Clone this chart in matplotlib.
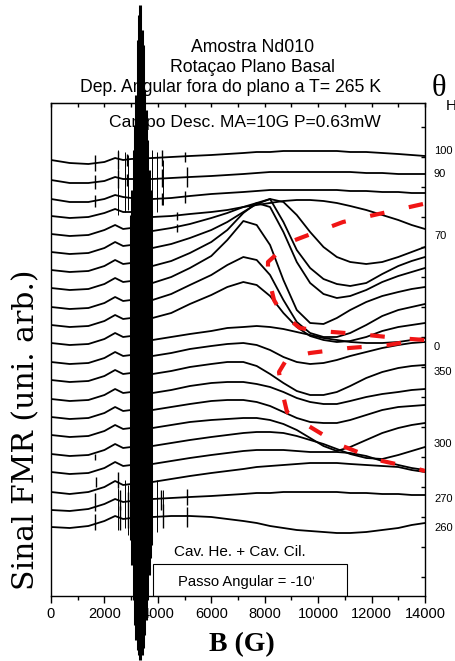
import matplotlib
matplotlib.use('Agg')
import matplotlib.pyplot as plt
from matplotlib.patches import Rectangle
from matplotlib.transforms import Bbox
from matplotlib.ticker import MultipleLocator

plt.rcParams['font.family'] = ['Liberation Sans', 'DejaVu Sans']

W, H = 456, 661

B_GRID = [0, 700, 1400, 2000, 2400, 2700, 3000, 3800, 4500, 5200, 6000, 6600,
          7200, 7700, 8200, 8700, 9200, 9700, 10200, 10700, 11200, 11800,
          12400, 13000, 13500, 14000]

# stacked FMR spectra, vertical position (arb., growing downwards), one per angle
T100 = [160, 163, 164, 162, 158, 160, 159, 158, 157, 156, 155, 154, 153, 152, 152, 151, 151, 151, 151, 151, 152, 152, 153, 154, 155, 156]
T090 = [180, 183, 183, 181, 177, 179, 179, 179, 178, 177, 176, 175, 174, 173, 172, 172, 172, 172, 172, 172, 172, 173, 173, 174, 174, 174]
T080 = [199, 202, 202, 199, 195, 197, 198, 199, 198, 196, 194, 193, 192, 191, 190, 190, 190, 190, 190, 190, 191, 191, 192, 192, 193, 193]
T070 = [216, 218, 217, 213, 209, 212, 212, 217, 216, 214, 212, 210, 207, 205, 203, 201, 200, 200, 201, 203, 206, 210, 215, 220, 225, 229]
T060 = [234, 236, 235, 230, 225, 229, 228, 231, 228, 224, 218, 213, 207, 203, 199, 202, 215, 232, 247, 257, 262, 264, 262, 257, 252, 247]
T050 = [252, 254, 253, 248, 242, 246, 245, 248, 244, 238, 230, 222, 212, 204, 199, 222, 250, 268, 279, 284, 286, 283, 274, 266, 261, 257]
T040 = [270, 272, 271, 266, 260, 264, 263, 266, 261, 253, 242, 230, 213, 203, 207, 232, 262, 283, 294, 298, 296, 290, 282, 276, 272, 268]
T030 = [288, 290, 289, 284, 278, 282, 281, 283, 277, 268, 256, 240, 221, 225, 245, 280, 310, 323, 324, 318, 310, 302, 296, 292, 289, 287]
T020 = [307, 309, 308, 303, 297, 301, 300, 300, 294, 285, 275, 265, 257, 260, 275, 300, 322, 333, 337, 337, 333, 325, 316, 310, 307, 304]
T010 = [325, 327, 326, 321, 315, 319, 318, 318, 313, 304, 295, 287, 282, 285, 296, 313, 327, 336, 340, 342, 341, 337, 331, 327, 325, 323]
T000 = [343, 345, 344, 339, 333, 337, 336, 340, 337, 334, 331, 328, 327, 326, 327, 329, 332, 335, 338, 340, 342, 343, 343, 342, 340, 338]
T350 = [362, 364, 363, 358, 352, 356, 355, 356, 353, 349, 346, 344, 343, 345, 350, 357, 362, 364, 363, 360, 356, 352, 348, 345, 343, 342]
T340 = [380, 382, 381, 376, 370, 374, 373, 374, 371, 367, 364, 362, 362, 366, 374, 383, 391, 395, 395, 392, 386, 378, 372, 368, 366, 365]
T330 = [399, 401, 400, 395, 389, 393, 392, 393, 390, 386, 383, 382, 382, 384, 387, 392, 398, 402, 404, 404, 401, 397, 394, 392, 390, 389]
T320 = [417, 419, 418, 413, 407, 411, 410, 410, 407, 404, 401, 400, 400, 402, 406, 412, 418, 422, 423, 423, 420, 415, 410, 407, 406, 405]
T310 = [435, 437, 436, 431, 425, 429, 428, 428, 425, 422, 420, 419, 418, 418, 420, 424, 430, 438, 446, 451, 447, 440, 433, 428, 425, 423]
T300 = [454, 456, 455, 450, 444, 448, 447, 446, 443, 440, 437, 435, 433, 432, 432, 433, 436, 440, 444, 449, 454, 458, 459, 455, 451, 447]
T290 = [472, 474, 473, 468, 462, 466, 465, 464, 461, 458, 455, 453, 451, 450, 450, 450, 451, 452, 452, 452, 453, 456, 461, 465, 468, 470]
T280 = [492, 494, 492, 487, 481, 485, 484, 482, 479, 476, 473, 471, 469, 467, 466, 465, 464, 463, 463, 463, 464, 465, 466, 467, 470, 472]
T270 = [510, 511, 509, 504, 499, 502, 501, 499, 498, 497, 496, 495, 494, 493, 493, 492, 492, 492, 492, 492, 493, 493, 494, 494, 495, 495]
T260 = [527, 528, 526, 521, 516, 519, 518, 517, 516, 516, 517, 519, 521, 523, 526, 528, 530, 531, 532, 533, 533, 532, 530, 528, 525, 523]

TRACES = [T100, T090, T080, T070, T060, T050, T040, T030, T020, T010, T000,
          T350, T340, T330, T320, T310, T300, T290, T280, T270, T260]

# angle labels written at the right of the frame
LABEL_TXT = ['100', '90', '70', '0', '350', '300', '270', '260']
LABEL_Y = [151, 174, 236, 347, 372, 444, 499, 528]

# red dashed guide through the resonance positions
RED_B = [13925, 12428, 10931, 9433, 8947, 8123, 8123, 8348, 8647, 9321, 10070,
         11492, 12952, 14000, 13513, 12615, 11155, 9695, 9171, 8760, 8535,
         8610, 8835, 9396, 10818, 12241, 13738, 14000]
RED_Y = [204, 213, 222, 237, 242, 262, 275, 300, 314, 328, 331, 334, 338, 340,
         341, 345, 348, 353, 356, 362, 372, 387, 412, 422, 445, 460, 469, 471]

# cavity signal near g=2: huge oscillation running out of the frame
CAV_B = [3000, 3050, 3100, 3150, 3200, 3250, 3300, 3350, 3400, 3450, 3500,
         3550, 3600, 3650, 3700, 3750]
CAV_TOP = [215, 190, 150, 125, 95, 40, 15, 5, 30, 45, 90, 110, 140, 170, 190, 210]
CAV_BOT = [540, 565, 600, 625, 640, 650, 655, 660, 655, 648, 635, 620, 600, 575, 558, 545]

# narrow glitches on single spectra: field, centre, half height
SPIKE_B = [1650, 1650, 1650, 2500, 2500, 2850, 2850, 4150, 4150, 4150, 5000,
           5100, 5000, 4700, 4700, 1650, 1700, 1650, 1650, 2500, 2600, 2600,
           2900, 2900, 4100, 4200, 5100, 5100]
SPIKE_Y = [163, 182, 201, 160, 179, 160, 180, 158, 178, 199, 157, 177, 197,
           216, 228, 457, 482, 502, 522, 480, 500, 518, 500, 518, 500, 516,
           497, 517]
SPIKE_H = [8, 7, 6, 9, 9, 6, 6, 8, 9, 6, 5, 10, 6, 4, 4, 3, 5, 9, 8, 8, 10,
           12, 8, 10, 10, 12, 8, 10]

# faint lines next to the cavity signal, top and bottom spectra
GHOST_B = [2510, 2770, 2880, 3780, 3970, 4190, 2510, 2770, 2880, 3780, 3970, 4190]
GHOST_TOP = [150, 152, 155, 150, 152, 160, 488, 480, 485, 485, 480, 490]
GHOST_BOT = [215, 212, 210, 215, 212, 205, 530, 528, 535, 540, 532, 525]

fig = plt.figure(figsize=(W / 100, H / 100), dpi=100)
ax = fig.add_axes([51 / W, 65 / H, 374 / W, 493 / H])

for tr in TRACES:
    ax.plot(B_GRID, tr, color='black', lw=1.3, solid_joinstyle='round', zorder=2)

ax.vlines(SPIKE_B, [y - h for y, h in zip(SPIKE_Y, SPIKE_H)],
          [y + h for y, h in zip(SPIKE_Y, SPIKE_H)], color='black', lw=1.0, zorder=2)
ax.vlines(GHOST_B, GHOST_TOP, GHOST_BOT, color='black', lw=0.7, zorder=2)

ax.plot(RED_B, RED_Y, color='#f01515', lw=3.0, dashes=(3.5, 6.0),
        dash_capstyle='butt', zorder=4)

ax.vlines(CAV_B, CAV_TOP, CAV_BOT, color='black', lw=2.2, zorder=10, clip_on=False)

ax.set_xlim(0, 14000)
ax.set_ylim(596, 103)
ax.set_xticks(range(0, 14001, 2000))
ax.xaxis.set_minor_locator(MultipleLocator(1000))
ax.tick_params(axis='x', which='major', direction='out', length=5, width=1,
               labelsize=10.5, pad=3)
ax.tick_params(axis='x', which='minor', direction='out', length=3, width=1)
ax.set_yticks(range(577, 110, -30))
ax.tick_params(axis='y', left=False, right=True, labelleft=False,
               direction='in', length=3, width=1)
top = ax.secondary_xaxis('top')
top.set_xticks(range(0, 14001, 1000))
top.tick_params(direction='in', length=3, width=1, labeltop=False)
for s in ax.spines.values():
    s.set_linewidth(1.0)


def ftext(px, py, s, **kw):
    return ax.text(px / W, 1 - py / H, s, transform=fig.transFigure,
                   clip_on=False, zorder=1, **kw)


ftext(253, 47, 'Amostra Nd010', size=12.7, ha='center', va='center')
ftext(252, 68, 'Rotaçao Plano Basal', size=12.7, ha='center', va='center')
ftext(231, 87, 'Dep. Angular fora do plano a T= 265 K', size=12.7, ha='center', va='center')
ftext(245, 123, 'Campo Desc. MA=10G P=0.63mW', size=12.6, ha='center', va='center')
ftext(432, 88, 'θ', family='Liberation Serif', size=22, ha='left', va='center')
ftext(446, 106, 'H', size=11, ha='left', va='center')

for txt, y in zip(LABEL_TXT, LABEL_Y):
    ftext(434, y, txt, size=8, ha='left', va='center')

ftext(240, 552, 'Cav. He. + Cav. Cil.', size=11, ha='center', va='center')
ax.add_patch(Rectangle((153 / W, 65 / H), 194 / W, 32 / H, transform=fig.transFigure,
                       facecolor='white', edgecolor='black', lw=0.8, zorder=1))
t = ftext(178, 582, 'Passo Angular = -10°', size=10.6, ha='left', va='center')
t.set_clip_on(True)
t.set_clip_box(Bbox.from_extents(0, 0, 314, H))

ftext(242, 645, 'B (G)', family='Liberation Serif', weight='bold', size=20,
      ha='center', va='center')
ftext(26, 430, 'Sinal FMR (uni. arb.)', family='DejaVu Serif', size=21.5,
      rotation=90, ha='center', va='center')

fig.savefig('out.png', dpi=100, facecolor='white')
